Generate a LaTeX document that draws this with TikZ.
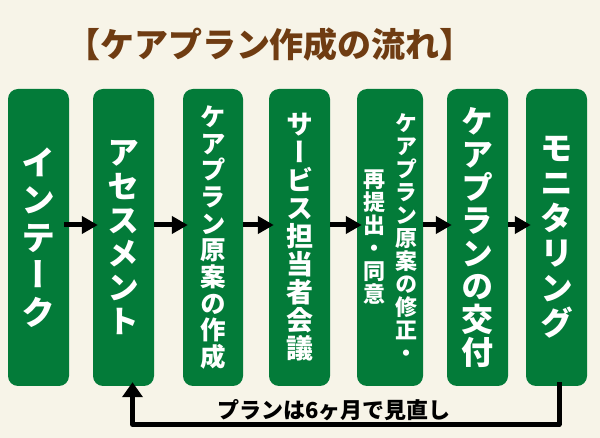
\documentclass[tikz,border=0pt]{standalone}
\usepackage{fontspec}
\newfontfamily\jp{Noto Sans CJK JP}
\newfontfamily\vjp[RawFeature=+vert]{Noto Sans CJK JP}
\usetikzlibrary{arrows.meta}
\definecolor{bgcream}{HTML}{F7F4E8}
\definecolor{boxgreen}{HTML}{037B39}
\definecolor{titlebrown}{HTML}{6F3C12}
\begin{document}
\begin{tikzpicture}[x=1pt,y=-1pt,
  stepbox/.style={fill=boxgreen, rounded corners=10pt, minimum width=61pt,
    minimum height=297pt, inner sep=0pt, text=white, align=center},
  flow/.style={line width=5pt, -{Triangle[length=16pt,width=17pt]}, shorten >=-5pt},
  back/.style={line width=5pt, line join=round, -{Triangle[length=15pt,width=20pt]}}]
\fill[bgcream] (0,0) rectangle (600,438);
\useasboundingbox (0,0) rectangle (600,438);

\node[text=titlebrown, font={\jp\bfseries\fontsize{34}{38}\selectfont}] (title) at (270,45) {【ケアプラン作成の流れ】};

\node[stepbox, font={\vjp\bfseries\fontsize{34}{37.6}\selectfont}] (b1) at (38.5,237.5) {イ\\ン\\テ\\ー\\ク};
\node[stepbox, font={\vjp\bfseries\fontsize{32}{33.7}\selectfont}] (b2) at (123.5,237.5) {ア\\セ\\ス\\メ\\ン\\ト};
\node[stepbox, minimum width=60pt, font={\vjp\bfseries\fontsize{25.5}{26.7}\selectfont}] (b3) at (213,237.5) {ケ\\ア\\プ\\ラ\\ン\\原\\案\\の\\作\\成};
\node[stepbox, font={\vjp\bfseries\fontsize{27}{28}\selectfont}] (b4) at (299.5,237.5) {サ\\ー\\ビ\\ス\\担\\当\\者\\会\\議};
\node[stepbox, minimum width=66pt, font={\vjp\bfseries\fontsize{22}{23}\selectfont}] (b5) at (390,237.5)
  {\parbox[c]{23pt}{\centering 再\\提\\出\\・\\同\\意}\hspace{9pt}\parbox[c]{23pt}{\centering ケ\\ア\\プ\\ラ\\ン\\原\\案\\の\\修\\正\\・}};
\node[stepbox, font={\vjp\bfseries\fontsize{32}{33}\selectfont}] (b6) at (477.5,237.5) {ケ\\ア\\プ\\ラ\\ン\\の\\交\\付};
\node[stepbox, font={\vjp\bfseries\fontsize{33}{35}\selectfont}] (b7) at (556.5,237.5) {モ\\ニ\\タ\\リ\\ン\\グ};

\coordinate (row) at (0,225);
\draw[flow] ([xshift=-5pt]b1.east |- row) -- (b2.west |- row);
\draw[flow] (b2.east |- row) -- (b3.west |- row);
\draw[flow] (b3.east |- row) -- (b4.west |- row);
\draw[flow] (b4.east |- row) -- (b5.west |- row);
\draw[flow] (b5.east |- row) -- (b6.west |- row);
\draw[flow] (b6.east |- row) -- (b7.west |- row);

\coordinate (cR) at (559,424.5);
\coordinate (cL) at (132.5,424.5);
\draw[back] ([yshift=4pt]b7.south -| cR) -- (cR) -- (cL) -- ([yshift=4pt]b2.south -| cL);

\node[font={\jp\bfseries\fontsize{22}{25}\selectfont}] (lbl) at (334,410) {プランは6ヶ月で見直し};
\end{tikzpicture}
\end{document}
